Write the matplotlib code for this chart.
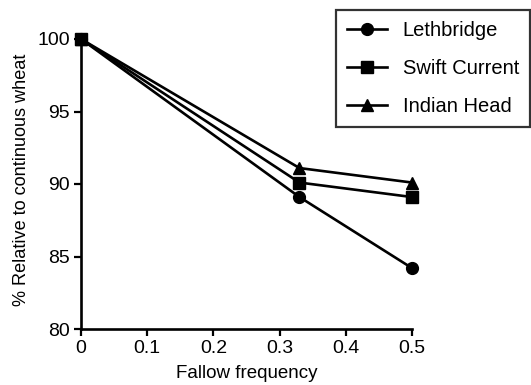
import matplotlib
matplotlib.use("Agg")
import matplotlib.pyplot as plt

plt.rcParams['font.family'] = ['Liberation Sans', 'DejaVu Sans']

fallow = [0, 0.33, 0.5]
lethbridge = [100, 89.1, 84.2]
swift_current = [100, 90.1, 89.1]
indian_head = [100, 91.1, 90.1]
xticks = [0, 0.1, 0.2, 0.3, 0.4, 0.5]
xticklabels = ['0', '0.1', '0.2', '0.3', '0.4', '0.5']
yticks = [80, 85, 90, 95, 100]

fig = plt.figure(figsize=(5.31, 3.85), dpi=100)
ax = fig.add_axes([81/531, 1-329/385, (412-81)/531, (329-39)/385])

kw = dict(color='black', lw=1.9, clip_on=False, markersize=8.5)
ax.plot(fallow, lethbridge, marker='o', label='Lethbridge', **kw)
ax.plot(fallow, swift_current, marker='s', label='Swift Current', **kw)
ax.plot(fallow, indian_head, marker='^', label='Indian Head', **kw)

ax.set_xlim(0, 0.5)
ax.set_ylim(80, 100)
ax.set_xticks(xticks)
ax.set_xticklabels(xticklabels)
ax.set_yticks(yticks)
for s in ['top', 'right']:
    ax.spines[s].set_visible(False)
for s in ['left', 'bottom']:
    ax.spines[s].set_linewidth(1.9)
ax.tick_params(width=1.6, length=5, labelsize=14, colors='black', pad=3)
ax.set_xlabel('Fallow frequency', fontsize=13.5)
ax.set_ylabel('% Relative to continuous wheat', fontsize=13.1)
ax.xaxis.set_label_coords(0.5, -0.152)
ax.yaxis.set_label_coords(-0.18, 0.514)
ax.xaxis.label.set_va('center')
ax.yaxis.label.set_va('center')

leg = fig.legend(loc='upper right', bbox_to_anchor=(530/531, 1-10/385),
                 fontsize=14.5, frameon=True, fancybox=False, edgecolor='black',
                 handlelength=2.0, labelspacing=0.95, borderpad=0.55,
                 handletextpad=0.75, borderaxespad=0)
leg.get_frame().set_linewidth(1.6)

fig.savefig('out.png', dpi=100)
